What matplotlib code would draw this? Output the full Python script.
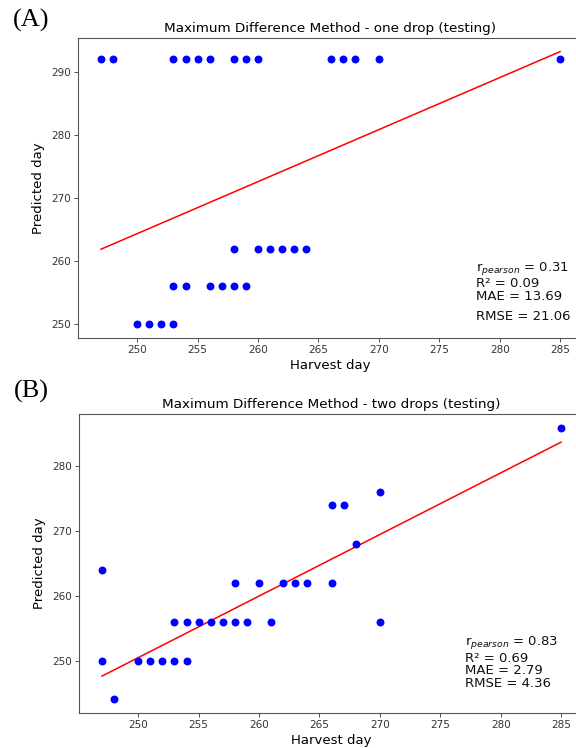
import matplotlib
matplotlib.use("Agg")
import matplotlib.pyplot as plt
from matplotlib.ticker import MultipleLocator

# ---- Panel A data: one drop (testing) ----
a_harvest = [247, 248, 253, 254, 255, 256, 258, 259, 260, 266, 267, 268, 270, 285,
             258, 260, 261, 262, 263, 264,
             253, 254, 256, 257, 258, 259,
             250, 251, 252, 253]
a_pred = [292, 292, 292, 292, 292, 292, 292, 292, 292, 292, 292, 292, 292, 292,
          262, 262, 262, 262, 262, 262,
          256, 256, 256, 256, 256, 256,
          250, 250, 250, 250]
a_fit_x = [247, 285]
a_fit_y = [261.9, 293.2]
a_title = "Maximum Difference Method - one drop (testing)"
a_stats = [r"r$_{pearson}$ = 0.31", "R² = 0.09", "MAE = 13.69", "RMSE = 21.06"]

# ---- Panel B data: two drops (testing) ----
b_harvest = [247, 247, 248,
             250, 251, 252, 253, 254,
             253, 254, 255, 256, 257, 258, 259, 261,
             258, 260, 262, 263, 264, 266,
             266, 267, 270, 268, 270, 285]
b_pred = [264, 250, 244,
          250, 250, 250, 250, 250,
          256, 256, 256, 256, 256, 256, 256, 256,
          262, 262, 262, 262, 262, 262,
          274, 274, 276, 268, 256, 286]
b_fit_x = [247, 285]
b_fit_y = [247.6, 283.75]
b_title = "Maximum Difference Method - two drops (testing)"
b_stats = [r"r$_{pearson}$ = 0.83", "R² = 0.69", "MAE = 2.79", "RMSE = 4.36"]

fig = plt.figure(figsize=(5.76, 7.48), dpi=100)

def panel(rect, hx, py, fx, fy, title, stats, stat_x, stat_ys):
    ax = fig.add_axes(rect)
    ax.scatter(hx, py, s=22, color="blue", zorder=3)
    ax.plot(fx, fy, color="red", lw=1.1)
    ax.set_title(title, fontsize=9.7, pad=4.5)
    ax.set_xlabel("Harvest day", fontsize=9.5, labelpad=3)
    ax.set_ylabel("Predicted day", fontsize=9.5, labelpad=4)
    ax.xaxis.set_major_locator(MultipleLocator(5))
    ax.yaxis.set_major_locator(MultipleLocator(10))
    ax.tick_params(labelsize=7.5, length=2.6, width=0.6, pad=2.6, colors="#333333")
    for sp in ax.spines.values():
        sp.set_linewidth(0.8)
        sp.set_color("#555555")
    for s, yy in zip(stats, stat_ys):
        ax.text(stat_x, yy, s, transform=ax.transAxes, fontsize=9.5,
                ha="left", va="center", color="#111111")
    return ax

panel([78/576, (748-338)/748, 505/576, 300/748], a_harvest, a_pred, a_fit_x, a_fit_y,
      a_title, a_stats, 0.7875, [0.232, 0.182, 0.14, 0.073])
panel([79/576, (748-713)/748, 505/576, 299/748], b_harvest, b_pred, b_fit_x, b_fit_y,
      b_title, b_stats, 0.764, [0.236, 0.183, 0.142, 0.097])

fig.text(31/576, 1 - 20/748, "(A)", family="Liberation Serif", fontsize=19,
         ha="center", va="center")
fig.text(31/576, 1 - 391/748, "(B)", family="Liberation Serif", fontsize=19,
         ha="center", va="center")

fig.savefig("out.png", dpi=100)
